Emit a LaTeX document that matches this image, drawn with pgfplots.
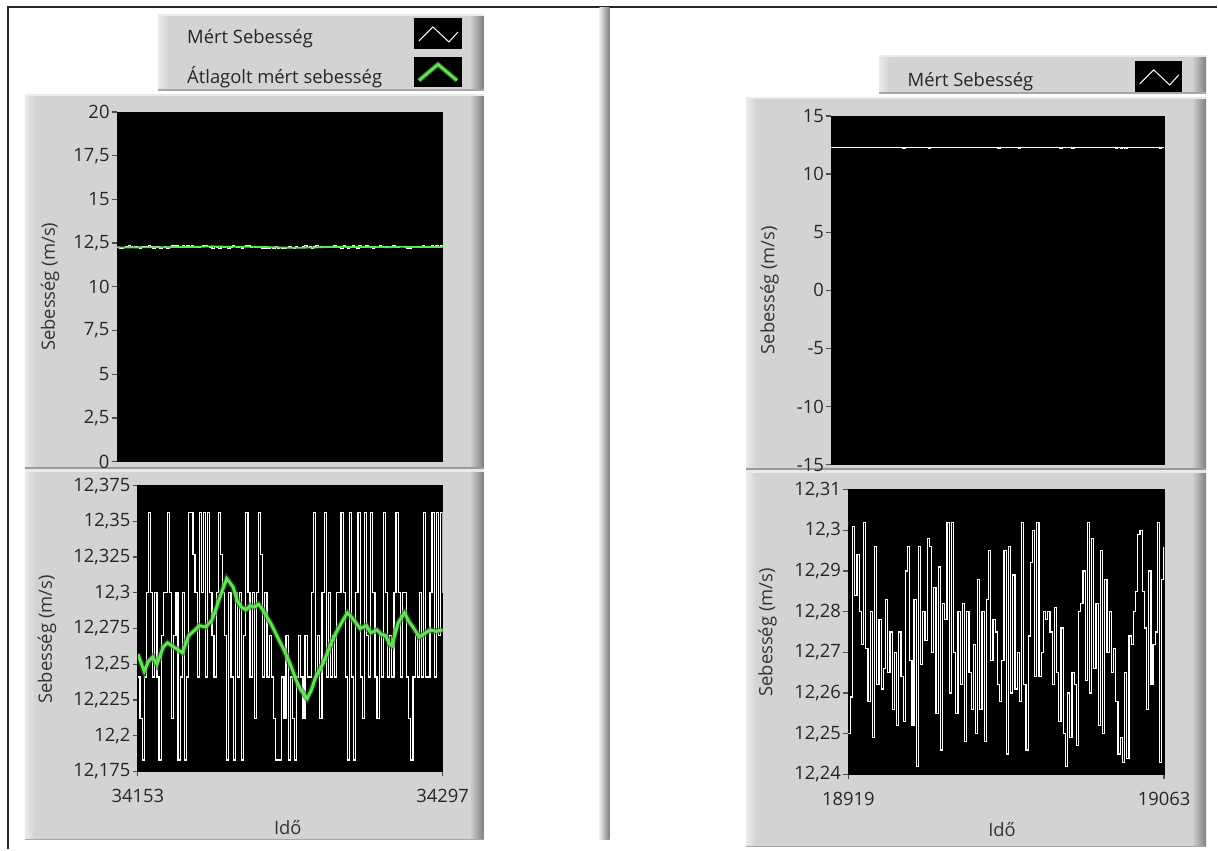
\documentclass[border=0pt]{standalone}
\usepackage{pgfplots}
\pgfplotsset{compat=1.18}
\usepackage{pgfplotstable}
\usepackage{fontspec}
\setmainfont{Open Sans}
\newcommand\fs{\fontsize{9.2}{11}\selectfont}

\definecolor{lvface}{RGB}{211,211,211}
\definecolor{lvlight}{RGB}{234,234,234}
\definecolor{lvdark}{RGB}{128,128,128}
\definecolor{lvgreen}{RGB}{96,226,84}

% gray LabVIEW-like panel: x1 y1 x2 y2 in screen pixels
\newcommand\lvpanel[4]{%
  \fill[lvface] (#1,#2) rectangle (#3,#4);
  \shade[left color=lvlight,right color=lvface] (#1,#2) rectangle ({#1+10},#4);
  \shade[left color=lvface,right color=lvdark] ({#3-14},#2) rectangle (#3,#4);
  \draw[lvlight,line width=1pt] (#1,#2) -- (#3,#2);
  \draw[black!35,line width=0.6pt] (#1,#4) -- (#3,#4);
}

% measured speed, first window
\pgfplotstableread[row sep=\\]{
x y\\
34153 12.241\\ 34154 12.212\\ 34155 12.183\\ 34156 12.241\\ 34157 12.3\\ 34158 12.356\\ 34159 12.3\\ 34160 12.241\\
34161 12.3\\ 34162 12.241\\ 34163 12.183\\ 34164 12.27\\ 34165 12.3\\ 34166 12.3\\ 34167 12.356\\ 34168 12.3\\
34169 12.212\\ 34170 12.27\\ 34171 12.3\\ 34172 12.183\\ 34173 12.241\\ 34174 12.3\\ 34175 12.183\\ 34176 12.241\\
34177 12.356\\ 34178 12.356\\ 34179 12.327\\ 34180 12.3\\ 34181 12.241\\ 34182 12.356\\ 34183 12.3\\ 34184 12.356\\
34185 12.241\\ 34186 12.356\\ 34187 12.3\\ 34188 12.27\\ 34189 12.241\\ 34190 12.3\\ 34191 12.356\\ 34192 12.327\\
34193 12.3\\ 34194 12.27\\ 34195 12.183\\ 34196 12.3\\ 34197 12.241\\ 34198 12.183\\ 34199 12.3\\ 34200 12.241\\
34201 12.3\\ 34202 12.183\\ 34203 12.27\\ 34204 12.356\\ 34205 12.3\\ 34206 12.241\\ 34207 12.3\\ 34208 12.212\\
34209 12.3\\ 34210 12.356\\ 34211 12.327\\ 34212 12.241\\ 34213 12.3\\ 34214 12.241\\ 34215 12.27\\ 34216 12.241\\
34217 12.212\\ 34218 12.183\\ 34219 12.183\\ 34220 12.183\\ 34221 12.241\\ 34222 12.212\\ 34223 12.27\\ 34224 12.183\\
34225 12.241\\ 34226 12.212\\ 34227 12.183\\ 34228 12.241\\ 34229 12.27\\ 34230 12.241\\ 34231 12.212\\ 34232 12.27\\
34233 12.241\\ 34234 12.241\\ 34235 12.3\\ 34236 12.356\\ 34237 12.241\\ 34238 12.27\\ 34239 12.212\\ 34240 12.3\\
34241 12.356\\ 34242 12.241\\ 34243 12.3\\ 34244 12.241\\ 34245 12.27\\ 34246 12.241\\ 34247 12.3\\ 34248 12.3\\
34249 12.356\\ 34250 12.3\\ 34251 12.241\\ 34252 12.183\\ 34253 12.356\\ 34254 12.241\\ 34255 12.183\\ 34256 12.3\\
34257 12.356\\ 34258 12.241\\ 34259 12.212\\ 34260 12.356\\ 34261 12.27\\ 34262 12.241\\ 34263 12.356\\ 34264 12.3\\
34265 12.241\\ 34266 12.212\\ 34267 12.27\\ 34268 12.241\\ 34269 12.356\\ 34270 12.3\\ 34271 12.241\\ 34272 12.27\\
34273 12.241\\ 34274 12.3\\ 34275 12.356\\ 34276 12.3\\ 34277 12.241\\ 34278 12.3\\ 34279 12.3\\ 34280 12.241\\
34281 12.212\\ 34282 12.183\\ 34283 12.241\\ 34284 12.27\\ 34285 12.241\\ 34286 12.3\\ 34287 12.241\\ 34288 12.356\\
34289 12.241\\ 34290 12.241\\ 34291 12.3\\ 34292 12.356\\ 34293 12.241\\ 34294 12.356\\ 34295 12.27\\ 34296 12.356\\
34297 12.3\\
}\mertA

% averaged speed, first window
\pgfplotstableread[row sep=\\]{
x y\\
34153 12.257\\ 34156 12.245\\ 34158 12.252\\ 34160 12.255\\ 34162 12.250\\ 34165 12.262\\ 34167 12.265\\ 34170 12.262\\
34172 12.260\\ 34174 12.258\\ 34177 12.270\\ 34180 12.274\\ 34182 12.277\\ 34185 12.276\\ 34188 12.281\\ 34190 12.289\\
34192 12.298\\ 34195 12.310\\ 34197 12.306\\ 34198 12.304\\ 34200 12.294\\ 34202 12.290\\ 34204 12.288\\ 34206 12.291\\
34208 12.290\\ 34210 12.292\\ 34212 12.288\\ 34214 12.283\\ 34216 12.278\\ 34219 12.269\\ 34222 12.260\\ 34225 12.250\\
34228 12.238\\ 34230 12.232\\ 34233 12.226\\ 34235 12.232\\ 34237 12.241\\ 34240 12.249\\ 34242 12.256\\ 34245 12.267\\
34247 12.273\\ 34250 12.281\\ 34252 12.286\\ 34254 12.283\\ 34256 12.279\\ 34258 12.275\\ 34261 12.277\\ 34263 12.272\\
34266 12.274\\ 34268 12.271\\ 34270 12.270\\ 34272 12.264\\ 34273 12.263\\ 34276 12.279\\ 34279 12.286\\ 34281 12.280\\
34283 12.276\\ 34286 12.269\\ 34288 12.271\\ 34291 12.274\\ 34294 12.273\\ 34297 12.274\\
}\atlagA

% measured speed, second window
\pgfplotstableread[row sep=\\]{
x y\\
18919 12.250\\ 18920 12.259\\ 18921 12.301\\ 18922 12.284\\ 18923 12.294\\ 18924 12.280\\ 18925 12.272\\ 18926 12.302\\
18927 12.271\\ 18928 12.258\\ 18929 12.280\\ 18930 12.249\\ 18931 12.296\\ 18932 12.262\\ 18933 12.278\\ 18934 12.261\\
18935 12.266\\ 18936 12.283\\ 18937 12.265\\ 18938 12.275\\ 18939 12.256\\ 18940 12.270\\ 18941 12.252\\ 18942 12.275\\
18943 12.264\\ 18944 12.253\\ 18945 12.290\\ 18946 12.296\\ 18947 12.268\\ 18948 12.252\\ 18949 12.283\\ 18950 12.242\\
18951 12.296\\ 18952 12.267\\ 18953 12.280\\ 18954 12.273\\ 18955 12.298\\ 18956 12.296\\ 18957 12.270\\ 18958 12.286\\
18959 12.255\\ 18960 12.291\\ 18961 12.246\\ 18962 12.282\\ 18963 12.278\\ 18964 12.302\\ 18965 12.260\\ 18966 12.302\\
18967 12.270\\ 18968 12.255\\ 18969 12.280\\ 18970 12.262\\ 18971 12.282\\ 18972 12.248\\ 18973 12.280\\ 18974 12.265\\
18975 12.256\\ 18976 12.272\\ 18977 12.250\\ 18978 12.288\\ 18979 12.256\\ 18980 12.280\\ 18981 12.248\\ 18982 12.283\\
18983 12.295\\ 18984 12.268\\ 18985 12.278\\ 18986 12.275\\ 18987 12.262\\ 18988 12.258\\ 18989 12.268\\ 18990 12.295\\
18991 12.245\\ 18992 12.296\\ 18993 12.260\\ 18994 12.289\\ 18995 12.261\\ 18996 12.270\\ 18997 12.258\\ 18998 12.302\\
18999 12.262\\ 19000 12.246\\ 19001 12.274\\ 19002 12.292\\ 19003 12.300\\ 19004 12.264\\ 19005 12.302\\ 19006 12.264\\
19007 12.270\\ 19008 12.280\\ 19009 12.278\\ 19010 12.280\\ 19011 12.275\\ 19012 12.262\\ 19013 12.281\\ 19014 12.265\\
19015 12.253\\ 19016 12.276\\ 19017 12.250\\ 19018 12.242\\ 19019 12.260\\ 19020 12.249\\ 19021 12.265\\ 19022 12.262\\
19023 12.247\\ 19024 12.280\\ 19025 12.282\\ 19026 12.290\\ 19027 12.263\\ 19028 12.302\\ 19029 12.260\\ 19030 12.298\\
19031 12.266\\ 19032 12.282\\ 19033 12.252\\ 19034 12.295\\ 19035 12.250\\ 19036 12.288\\ 19037 12.270\\ 19038 12.280\\
19039 12.265\\ 19040 12.271\\ 19041 12.258\\ 19042 12.245\\ 19043 12.249\\ 19044 12.243\\ 19045 12.265\\ 19046 12.244\\
19047 12.274\\ 19048 12.272\\ 19049 12.280\\ 19050 12.285\\ 19051 12.299\\ 19052 12.300\\ 19053 12.285\\ 19054 12.276\\
19055 12.256\\ 19056 12.290\\ 19057 12.262\\ 19058 12.272\\ 19059 12.275\\ 19060 12.302\\ 19061 12.243\\ 19062 12.288\\
19063 12.296\\
}\mertB

\pgfplotsset{
  lv/.style={
    scale only axis,
    axis background/.style={fill=black},
    axis line style={black},
    tick align=outside,
    xtick pos=left, ytick pos=left,
    major tick length=2.5pt,
    tick style={black!70,line width=0.6pt},
    scaled ticks=false,
    ticklabel style={font=\fs,text=black!85},
    yticklabel style={inner xsep=1pt},
    xticklabel style={yshift=-3pt},
    label style={font=\fs,text=black!80},
    /pgf/number format/fixed,
    /pgf/number format/precision=3,
    /pgf/number format/use comma,
    /pgf/number format/1000 sep={},
    /pgf/number format/assume math mode=true,
  },
  merttrace/.style={white,line width=0.6pt,const plot},
  lvlegend/.style={
    legend plot pos=right,
    legend cell align=left,
    legend style={draw=none,fill=none,inner sep=0pt,row sep=4pt,
      font=\fs,text=black!85,nodes={inner sep=0pt}},
  },
  % legend glyphs: black box with the trace, #1 = gap after the text
  zigzag/.style={legend image code/.code={
    \path (0pt,0pt);
    \fill[black] (#1,-4.8pt) rectangle ({#1+23pt},9.7pt);
    \draw[white,line width=0.5pt] ({#1+2pt},-1.3pt) -- ({#1+9pt},5.7pt) -- ({#1+17pt},-1.8pt) -- ({#1+21.5pt},3.2pt);}},
  hump/.style={legend image code/.code={
    \path (0pt,0pt);
    \fill[black] (#1,-4.8pt) rectangle ({#1+23pt},9.7pt);
    \draw[lvgreen!50!black,line width=2.4pt] ({#1+2pt},-1.8pt) -- ({#1+11.5pt},6.2pt) -- ({#1+21pt},-1.8pt);
    \draw[lvgreen,line width=1.3pt] ({#1+2pt},-1.8pt) -- ({#1+11.5pt},6.2pt) -- ({#1+21pt},-1.8pt);}},
}

\begin{document}
\begin{tikzpicture}
\begin{scope}[x=0.5pt,y=-0.5pt]
  \fill[white] (0,0) rectangle (1218,850);
  \draw[black!85,line width=1pt] (8,850) -- (8,7) -- (1218,7);
  \shade[left color=lvlight,right color=lvdark] (600,8) rectangle (610,840);
  \lvpanel{158}{15}{484}{90}
  \lvpanel{25}{95}{484}{840}
  \fill[black!40] (25,467) rectangle (484,469);
  \fill[lvlight] (25,469) rectangle (484,472);
  \lvpanel{880}{56}{1207}{93}
  \lvpanel{747}{98}{1207}{847}
  \fill[black!40] (747,468) rectangle (1207,470);
  \fill[lvlight] (747,470) rectangle (1207,473);
\end{scope}

% left, full range
\begin{axis}[lv, lvlegend,
  at={(58.5pt,-56pt)}, anchor=north west,
  width=163pt, height=175pt,
  xmin=34153, xmax=34297, ymin=0, ymax=20,
  xtick=\empty, ytick={0,2.5,...,20},
  ylabel={Sebesség (m/s)},
  ylabel style={at={(axis description cs:-0.2055,0.5)},anchor=center},
  legend style={at={(axis description cs:0.2147,1.2686)},anchor=north west},
]
\addplot[merttrace,zigzag=16pt] table {\mertA};
\addlegendentry{Mért Sebesség}
\addplot[lvgreen,line width=0.9pt,hump=16pt] table {\atlagA};
\addlegendentry{Átlagolt mért sebesség}
\end{axis}

% left, zoomed
\begin{axis}[lv,
  at={(69pt,-243pt)}, anchor=north west,
  width=152.5pt, height=143pt,
  xmin=34153, xmax=34297, ymin=12.175, ymax=12.375,
  xtick={34153,34297},
  ytick={12.175,12.2,12.225,12.25,12.275,12.3,12.325,12.35,12.375},
  xlabel={Idő}, ylabel={Sebesség (m/s)},
  xlabel style={at={(axis description cs:0.492,-0.196)},anchor=center},
  ylabel style={at={(axis description cs:-0.298,0.4615)},anchor=center},
]
\addplot[merttrace] table {\mertA};
\addplot[lvgreen!45!black,line width=3pt,opacity=0.6] table {\atlagA};
\addplot[lvgreen,line width=1.5pt] table {\atlagA};
\end{axis}

% right, full range
\begin{axis}[lv, lvlegend,
  at={(416pt,-58pt)}, anchor=north west,
  width=166.5pt, height=174.5pt,
  xmin=18919, xmax=19063, ymin=-15, ymax=15,
  xtick=\empty, ytick={-15,-10,...,15},
  ylabel={Sebesség (m/s)},
  ylabel style={at={(axis description cs:-0.186,0.5)},anchor=center},
  legend style={at={(axis description cs:0.2282,1.1576)},anchor=north west},
]
\addplot[merttrace,zigzag=51pt] table {\mertB};
\addlegendentry{Mért Sebesség}
\end{axis}

% right, zoomed
\begin{axis}[lv,
  at={(424.5pt,-245pt)}, anchor=north west,
  width=158pt, height=142.5pt,
  xmin=18919, xmax=19063, ymin=12.24, ymax=12.31,
  xtick={18919,19063},
  ytick={12.24,12.25,12.26,12.27,12.28,12.29,12.3,12.31},
  xlabel={Idő}, ylabel={Sebesség (m/s)},
  xlabel style={at={(axis description cs:0.487,-0.193)},anchor=center},
  ylabel style={at={(axis description cs:-0.256,0.498)},anchor=center},
]
\addplot[merttrace] table {\mertB};
\end{axis}
\end{tikzpicture}
\end{document}
